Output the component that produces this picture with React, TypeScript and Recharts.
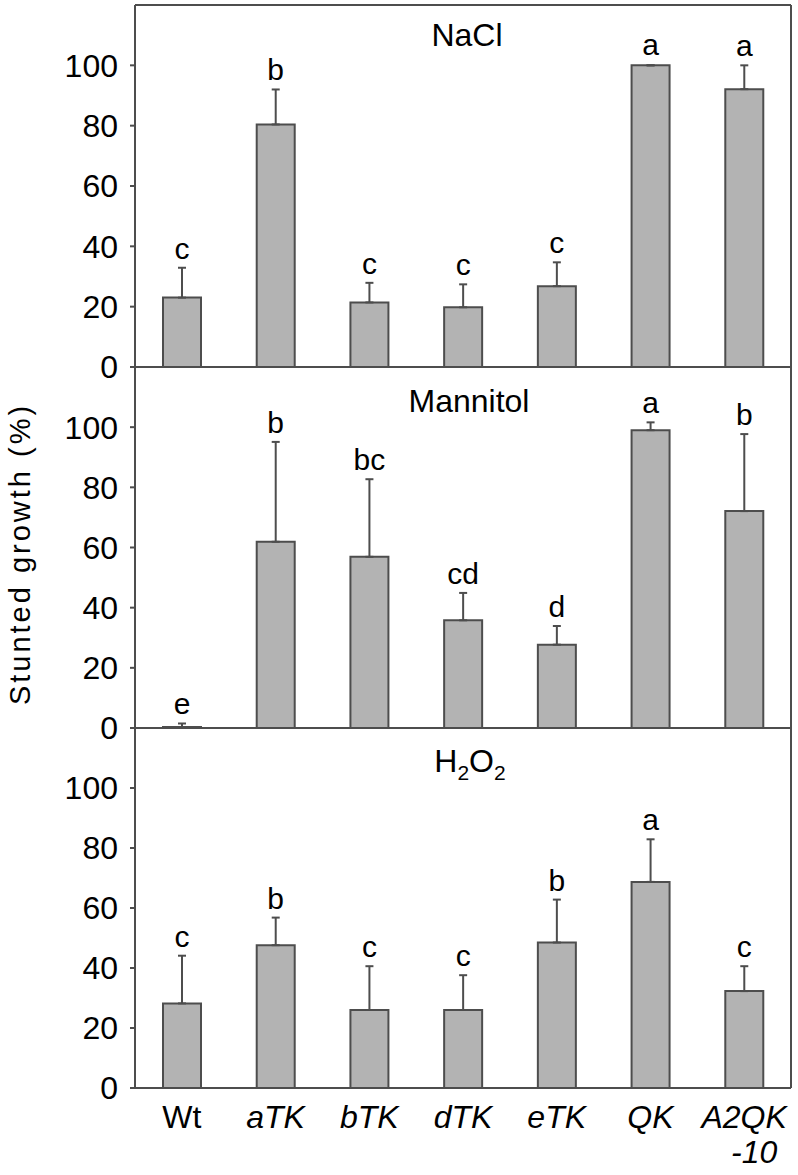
import { BarChart, Bar, XAxis, YAxis, ErrorBar, LabelList, ReferenceLine } from "recharts";

const FONT = "'Liberation Sans', Arial, sans-serif";
const FILL = "#b3b3b3";
const LINE = "#4d4d4d";

const categories = ["Wt", "aTK", "bTK", "dTK", "eTK", "QK", "A2QK-10"];
const tickLines: Record<string, string[]> = {
  Wt: ["Wt"],
  aTK: ["aTK"],
  bTK: ["bTK"],
  dTK: ["dTK"],
  eTK: ["eTK"],
  QK: ["QK"],
  "A2QK-10": ["A2QK", "-10"],
};
const yTicks = [0, 20, 40, 60, 80, 100];

const naclMean = [23.0, 80.4, 21.4, 19.8, 26.8, 100, 92.1];
const naclErr = [9.9, 11.6, 6.5, 7.6, 7.9, 0, 7.9];
const naclLetters = ["c", "b", "c", "c", "c", "a", "a"];

const mannitolMean = [0, 61.9, 56.9, 35.8, 27.7, 99.0, 72.1];
const mannitolErr = [1.5, 33.2, 25.8, 9.1, 6.2, 2.6, 25.6];
const mannitolLetters = ["e", "b", "bc", "cd", "d", "a", "b"];

const h2o2Mean = [28.2, 47.6, 26.0, 26.0, 48.5, 68.7, 32.3];
const h2o2Err = [15.9, 9.2, 14.6, 11.6, 14.3, 14.2, 8.3];
const h2o2Letters = ["c", "b", "c", "c", "b", "a", "c"];

type Row = { name: string; mean: number; err: number; letter: string };

function rows(mean: number[], err: number[], letters: string[]): Row[] {
  return categories.map((name, i) => ({ name, mean: mean[i], err: err[i], letter: letters[i] }));
}

function CategoryTick({ x, y, payload }: any) {
  const lines = tickLines[payload.value] ?? [payload.value];
  const italic = payload.value !== "Wt";
  return (
    <g>
      <text x={x} y={y + 40} textAnchor="middle" fontSize={32} fontFamily={FONT} fontStyle={italic ? "italic" : "normal"} fill="#000">
        {lines[0]}
      </text>
      {lines[1] && (
        <text x={x + 10} y={y + 75} textAnchor="middle" fontSize={32} fontFamily={FONT} fontStyle="italic" fill="#000">
          {lines[1]}
        </text>
      )}
    </g>
  );
}

function Panel({
  data,
  top,
  height,
  marginTop,
  marginBottom,
  xHeight,
  topBorder,
  showTicks,
}: {
  data: Row[];
  top: number;
  height: number;
  marginTop: number;
  marginBottom: number;
  xHeight: number;
  topBorder?: boolean;
  showTicks?: boolean;
}) {
  return (
    <div style={{ position: "absolute", left: 0, top }}>
      <BarChart
        width={798}
        height={height}
        data={data}
        margin={{ top: marginTop, right: 6, bottom: marginBottom, left: 0 }}
      >
        <XAxis
          dataKey="name"
          height={xHeight}
          axisLine={{ stroke: LINE, strokeWidth: 2 }}
          tickLine={false}
          tickSize={0}
          tickMargin={0}
          interval={0}
          tick={showTicks ? <CategoryTick /> : false}
        />
        <YAxis
          yAxisId="l"
          width={135}
          domain={[0, 120]}
          ticks={yTicks}
          interval={0}
          allowDataOverflow
          axisLine={{ stroke: LINE, strokeWidth: 2 }}
          tickLine={{ stroke: LINE, strokeWidth: 2 }}
          tickSize={5}
          tickMargin={12}
          tick={{ fontSize: 32, fill: "#000", fontFamily: FONT }}
        />
        <YAxis
          yAxisId="r"
          orientation="right"
          width={1}
          tick={false}
          tickLine={false}
          axisLine={{ stroke: LINE, strokeWidth: 2 }}
        />
        {topBorder && (
          <ReferenceLine yAxisId="l" y={120} stroke={LINE} strokeWidth={2} />
        )}
        <Bar
          yAxisId="l"
          dataKey="mean"
          stackId="s"
          barSize={38}
          minPointSize={1}
          fill={FILL}
          stroke={LINE}
          strokeWidth={2}
          isAnimationActive={false}
        >
          <ErrorBar
            dataKey={(d: Row) => [0, d.err]}
            direction="y"
            width={4}
            stroke={LINE}
            strokeWidth={2}
            isAnimationActive={false}
          />
        </Bar>
        <Bar
          yAxisId="l"
          dataKey="err"
          stackId="s"
          barSize={38}
          minPointSize={1}
          fill="transparent"
          isAnimationActive={false}
        >
          <LabelList
            dataKey="letter"
            position="top"
            offset={9}
            fontSize={30}
            fontFamily={FONT}
            fill="#000"
          />
        </Bar>
      </BarChart>
    </div>
  );
}

export default function App() {
  return (
    <div style={{ position: "absolute", left: 0, top: 0, width: 798, height: 1175, background: "#fff" }}>
      <Panel data={rows(naclMean, naclErr, naclLetters)} top={0} height={388} marginTop={5} marginBottom={20} xHeight={1} topBorder />
      <Panel data={rows(mannitolMean, mannitolErr, mannitolLetters)} top={367} height={382} marginTop={0} marginBottom={20} xHeight={1} />
      <Panel data={rows(h2o2Mean, h2o2Err, h2o2Letters)} top={728} height={447} marginTop={0} marginBottom={0} xHeight={87} showTicks />
      <svg
        width={798}
        height={1175}
        style={{ position: "absolute", left: 0, top: 0, pointerEvents: "none" }}
        fontFamily={FONT}
        fill="#000"
      >
        <text
          x={30}
          y={554}
          transform="rotate(-90, 30, 554)"
          textAnchor="middle"
          fontSize={29}
          letterSpacing={3}
        >
          Stunted growth (%)
        </text>
        <text x={467} y={46} textAnchor="middle" fontSize={32}>
          NaCl
        </text>
        <text x={469} y={412} textAnchor="middle" fontSize={32}>
          Mannitol
        </text>
        <text x={470} y={772} textAnchor="middle" fontSize={32}>
          <tspan>H</tspan>
          <tspan fontSize={21} dy={8}>2</tspan>
          <tspan dy={-8}>O</tspan>
          <tspan fontSize={21} dy={8}>2</tspan>
        </text>
      </svg>
    </div>
  );
}
